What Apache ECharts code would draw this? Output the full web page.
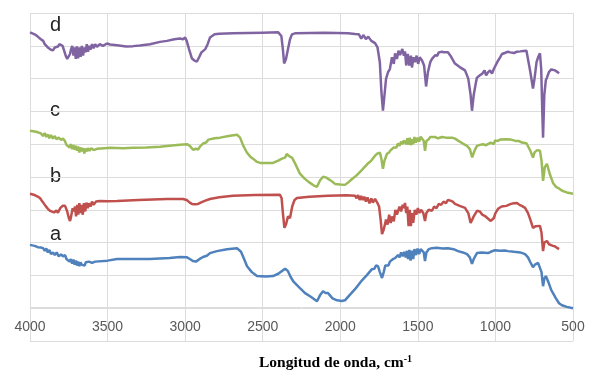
<!DOCTYPE html>
<html>
<head>
<meta charset="utf-8">
<script src="https://cdn.jsdelivr.net/npm/echarts@6/dist/echarts.min.js"></script>
<style>
  html, body { margin: 0; padding: 0; background: #fff; }
  #chart { width: 595px; height: 381px; }
</style>
</head>
<body>
<div id="chart"></div>
<script>
// wavenumber ticks (cm-1), axis runs from 4000 down to 500
const xTicks = [4000, 3500, 3000, 2500, 2000, 1500, 1000, 500];
const seriesNames = ['d', 'c', 'b', 'a'];

// spectra, offset vertically: [wavenumber, signal]
const spectrumD = [
  [4000, 8.41], [3970, 8.35], [3950, 8.28], [3930, 8.2], [3915, 8.15], [3905, 8.05], [3895, 8.1], [3885, 7.95],
  [3875, 8.0], [3865, 7.88], [3852, 7.86], [3840, 7.95], [3830, 7.9], [3820, 7.98], [3810, 8.05], [3800, 8.1],
  [3790, 8.0], [3780, 7.85], [3770, 7.7], [3760, 7.6], [3750, 7.61], [3742, 7.75], [3735, 7.9], [3728, 8.0],
  [3720, 7.7], [3712, 7.95], [3705, 7.6], [3698, 7.98], [3690, 7.62], [3682, 7.95], [3674, 7.66], [3666, 8.0],
  [3658, 7.7], [3650, 7.95], [3642, 7.8], [3634, 8.05], [3626, 7.82], [3618, 8.0], [3610, 7.88], [3600, 8.05],
  [3590, 7.92], [3580, 8.05], [3568, 7.97], [3550, 8.05], [3530, 8.0], [3504, 8.07], [3484, 8.04], [3439, 8.02],
  [3380, 7.98], [3336, 7.99], [3291, 8.01], [3227, 8.05], [3162, 8.12], [3117, 8.15], [3070, 8.2], [3033, 8.22],
  [3014, 8.2], [3000, 8.25], [2990, 8.15], [2975, 7.9], [2956, 7.61], [2940, 7.55], [2924, 7.52], [2910, 7.65],
  [2895, 7.8], [2885, 7.86], [2870, 7.9], [2855, 8.05], [2840, 8.25], [2810, 8.35], [2780, 8.37], [2692, 8.38],
  [2600, 8.39], [2500, 8.4], [2400, 8.41], [2389, 8.41], [2380, 8.3], [2370, 7.9], [2362, 7.46], [2350, 7.6],
  [2337, 7.9], [2324, 8.2], [2311, 8.35], [2292, 8.38], [2100, 8.4], [1950, 8.38], [1905, 8.36], [1895, 8.3],
  [1880, 8.35], [1865, 8.22], [1850, 8.33], [1835, 8.2], [1820, 8.28], [1800, 8.15], [1790, 8.2], [1776, 8.08],
  [1760, 7.95], [1745, 7.5], [1735, 6.6], [1725, 6.02], [1715, 6.5], [1705, 7.0], [1692, 7.2], [1680, 7.3],
  [1667, 7.65], [1655, 7.45], [1647, 7.77], [1635, 7.6], [1625, 7.85], [1615, 7.72], [1600, 7.9], [1590, 7.7],
  [1583, 7.83], [1575, 7.4], [1565, 7.75], [1555, 7.4], [1545, 7.7], [1538, 7.34], [1528, 7.65], [1518, 7.5],
  [1508, 7.7], [1498, 7.45], [1488, 7.65], [1473, 7.55], [1460, 7.4], [1447, 6.76], [1435, 7.2], [1420, 7.5],
  [1409, 7.6], [1400, 7.55], [1389, 7.71], [1375, 7.7], [1365, 7.8], [1355, 7.75], [1344, 7.82], [1330, 7.8],
  [1306, 7.8], [1290, 7.7], [1261, 7.46], [1230, 7.35], [1196, 7.25], [1175, 7.0], [1160, 6.5], [1151, 6.02],
  [1140, 6.5], [1125, 6.9], [1119, 7.03], [1100, 7.1], [1085, 7.15], [1070, 7.25], [1060, 7.1], [1048, 7.19],
  [1035, 7.25], [1022, 7.15], [1010, 7.3], [1003, 7.35], [983, 7.55], [970, 7.65], [958, 7.75], [940, 7.78],
  [930, 7.75], [919, 7.82], [905, 7.8], [893, 7.83], [880, 7.78], [870, 7.84], [861, 7.82], [840, 7.83],
  [820, 7.84], [800, 7.85], [790, 7.8], [775, 7.2], [758, 6.7], [748, 7.0], [735, 7.5], [725, 7.65],
  [713, 7.77], [705, 7.3], [698, 6.0], [693, 5.2], [685, 6.5], [675, 6.95], [668, 7.03], [655, 7.2],
  [640, 7.28], [629, 7.34], [615, 7.25], [597, 7.19], [590, 7.16]
];

const spectrumC = [
  [4000, 5.41], [3960, 5.38], [3930, 5.33], [3916, 5.25], [3905, 5.34], [3895, 5.22], [3885, 5.3], [3875, 5.18],
  [3865, 5.28], [3852, 5.17], [3840, 5.25], [3830, 5.15], [3815, 5.2], [3800, 5.13], [3787, 5.17], [3775, 5.1],
  [3765, 4.98], [3755, 4.98], [3745, 4.9], [3737, 5.0], [3728, 4.85], [3720, 4.97], [3712, 4.83], [3704, 4.95],
  [3697, 4.8], [3690, 4.93], [3682, 4.75], [3674, 4.9], [3666, 4.78], [3658, 4.88], [3650, 4.72], [3642, 4.87],
  [3634, 4.78], [3626, 4.88], [3616, 4.8], [3605, 4.88], [3590, 4.82], [3568, 4.86], [3520, 4.88], [3484, 4.89],
  [3400, 4.88], [3336, 4.89], [3250, 4.9], [3162, 4.92], [3100, 4.95], [3033, 4.98], [2988, 5.0], [2970, 4.95],
  [2949, 4.83], [2930, 4.86], [2917, 4.84], [2900, 4.95], [2885, 5.02], [2865, 5.05], [2850, 5.14], [2840, 5.12],
  [2810, 5.18], [2775, 5.2], [2720, 5.25], [2666, 5.29], [2655, 5.28], [2646, 5.2], [2625, 4.95], [2601, 4.74],
  [2580, 4.62], [2563, 4.56], [2540, 4.47], [2517, 4.43], [2480, 4.43], [2434, 4.43], [2400, 4.5], [2376, 4.56],
  [2356, 4.59], [2345, 4.7], [2337, 4.71], [2325, 4.62], [2311, 4.59], [2290, 4.4], [2260, 4.1], [2230, 3.95],
  [2195, 3.82], [2170, 3.74], [2150, 3.7], [2130, 3.9], [2111, 4.01], [2090, 3.98], [2079, 3.98], [2055, 3.87],
  [2034, 3.79], [2000, 3.77], [1970, 3.76], [1945, 3.85], [1924, 3.94], [1895, 4.05], [1860, 4.22], [1820, 4.42],
  [1800, 4.5], [1776, 4.65], [1760, 4.72], [1750, 4.68], [1744, 4.74], [1735, 4.55], [1725, 4.25], [1715, 4.5],
  [1699, 4.71], [1685, 4.75], [1675, 4.82], [1665, 4.78], [1655, 4.9], [1647, 4.95], [1638, 4.9], [1628, 5.02],
  [1618, 4.95], [1608, 5.08], [1598, 5.0], [1590, 5.12], [1583, 5.14], [1575, 5.0], [1568, 5.18], [1560, 4.98],
  [1552, 5.2], [1545, 4.97], [1538, 5.15], [1530, 5.0], [1522, 5.22], [1512, 5.05], [1502, 5.2], [1492, 5.08],
  [1482, 5.23], [1473, 5.2], [1462, 5.1], [1454, 4.8], [1445, 5.1], [1430, 5.15], [1420, 5.22], [1409, 5.2],
  [1390, 5.22], [1370, 5.18], [1344, 5.22], [1320, 5.2], [1280, 5.2], [1260, 5.17], [1241, 5.11], [1210, 5.02],
  [1183, 4.95], [1165, 4.85], [1150, 4.6], [1145, 4.56], [1135, 4.8], [1119, 4.95], [1100, 4.98], [1080, 5.0],
  [1060, 4.97], [1048, 5.02], [1030, 5.05], [1010, 5.0], [1003, 5.11], [985, 5.1], [970, 5.14], [958, 5.17],
  [930, 5.15], [900, 5.14], [870, 5.1], [850, 5.1], [829, 5.05], [800, 5.03], [790, 5.02], [775, 4.8],
  [758, 4.59], [748, 4.75], [730, 4.82], [713, 4.8], [703, 4.5], [693, 3.88], [682, 4.3], [668, 4.4],
  [650, 4.1], [629, 3.82], [610, 3.7], [597, 3.67], [570, 3.58], [540, 3.53], [500, 3.49]
];

const spectrumB = [
  [4000, 3.49], [3970, 3.45], [3950, 3.4], [3936, 3.36], [3920, 3.25], [3900, 3.12], [3885, 3.03], [3871, 2.97],
  [3860, 3.02], [3845, 2.92], [3830, 2.98], [3820, 2.91], [3805, 3.05], [3790, 3.12], [3774, 3.12], [3760, 2.95],
  [3750, 2.75], [3742, 2.66], [3735, 2.8], [3725, 3.05], [3718, 2.95], [3710, 3.1], [3703, 2.8], [3696, 3.15],
  [3689, 2.85], [3682, 3.2], [3675, 2.9], [3668, 3.15], [3660, 2.85], [3652, 3.2], [3644, 2.95], [3636, 3.22],
  [3628, 3.05], [3620, 3.2], [3610, 3.1], [3600, 3.25], [3590, 3.15], [3575, 3.25], [3549, 3.27], [3500, 3.26],
  [3439, 3.27], [3300, 3.3], [3117, 3.33], [3014, 3.33], [2990, 3.3], [2970, 3.22], [2956, 3.18], [2935, 3.17],
  [2917, 3.18], [2900, 3.22], [2870, 3.28], [2840, 3.33], [2780, 3.38], [2692, 3.43], [2550, 3.45], [2389, 3.46],
  [2378, 3.35], [2370, 2.9], [2360, 2.45], [2350, 2.55], [2337, 2.8], [2324, 2.75], [2310, 3.1], [2295, 3.3],
  [2279, 3.36], [2200, 3.4], [2079, 3.43], [1960, 3.44], [1905, 3.43], [1895, 3.35], [1885, 3.45], [1875, 3.3],
  [1865, 3.42], [1855, 3.3], [1845, 3.4], [1835, 3.25], [1825, 3.38], [1812, 3.2], [1800, 3.35], [1790, 3.22],
  [1776, 3.33], [1760, 3.2], [1750, 3.1], [1740, 2.7], [1731, 2.26], [1720, 2.4], [1705, 2.7], [1695, 2.55],
  [1685, 2.85], [1675, 2.6], [1667, 2.8], [1655, 2.65], [1645, 3.0], [1635, 2.85], [1628, 2.9], [1618, 3.1],
  [1608, 2.95], [1598, 3.15], [1590, 3.05], [1583, 3.21], [1575, 2.9], [1568, 3.1], [1560, 2.5], [1552, 3.0],
  [1545, 2.5], [1538, 2.9], [1530, 2.6], [1520, 3.0], [1510, 2.85], [1500, 3.05], [1490, 2.9], [1480, 3.0],
  [1473, 2.97], [1465, 2.9], [1454, 2.66], [1445, 2.9], [1430, 3.0], [1409, 2.97], [1395, 3.1], [1380, 3.05],
  [1365, 3.18], [1350, 3.15], [1335, 3.25], [1320, 3.2], [1306, 3.3], [1290, 3.28], [1275, 3.25], [1261, 3.18],
  [1230, 3.12], [1196, 3.06], [1175, 2.9], [1160, 2.6], [1151, 2.57], [1140, 2.8], [1119, 2.97], [1100, 2.95],
  [1085, 2.85], [1067, 2.81], [1045, 2.72], [1030, 2.66], [1022, 2.66], [1010, 2.75], [1000, 2.9], [983, 3.03],
  [960, 3.1], [930, 3.12], [900, 3.18], [880, 3.2], [861, 3.21], [845, 3.15], [830, 3.12], [809, 3.06],
  [790, 2.9], [775, 2.7], [758, 2.45], [740, 2.5], [713, 2.51], [703, 2.3], [693, 1.74], [685, 2.0],
  [675, 2.05], [668, 2.05], [655, 1.95], [645, 2.0], [629, 1.9], [615, 1.88], [600, 1.83], [590, 1.8]
];

const spectrumA = [
  [4000, 1.93], [3970, 1.9], [3950, 1.86], [3930, 1.85], [3916, 1.83], [3905, 1.75], [3895, 1.82], [3885, 1.7],
  [3875, 1.78], [3865, 1.65], [3852, 1.7], [3840, 1.62], [3828, 1.7], [3815, 1.58], [3800, 1.64], [3787, 1.58],
  [3774, 1.62], [3765, 1.5], [3755, 1.55], [3745, 1.42], [3737, 1.5], [3728, 1.36], [3720, 1.48], [3712, 1.33],
  [3704, 1.45], [3697, 1.3], [3690, 1.42], [3682, 1.28], [3674, 1.4], [3666, 1.32], [3658, 1.38], [3648, 1.3],
  [3640, 1.4], [3630, 1.35], [3620, 1.42], [3600, 1.38], [3580, 1.42], [3568, 1.41], [3500, 1.45], [3439, 1.5],
  [3300, 1.5], [3227, 1.5], [3100, 1.53], [3033, 1.56], [2988, 1.55], [2970, 1.5], [2950, 1.44], [2930, 1.42],
  [2920, 1.44], [2900, 1.52], [2885, 1.56], [2860, 1.6], [2840, 1.68], [2795, 1.74], [2730, 1.8], [2666, 1.83],
  [2655, 1.82], [2640, 1.72], [2620, 1.5], [2601, 1.28], [2570, 1.1], [2537, 0.98], [2480, 0.97], [2434, 0.98],
  [2400, 1.05], [2369, 1.16], [2355, 1.2], [2345, 1.14], [2337, 1.13], [2320, 0.95], [2300, 0.8], [2260, 0.61],
  [2227, 0.46], [2190, 0.35], [2150, 0.21], [2130, 0.4], [2111, 0.52], [2095, 0.46], [2079, 0.46], [2050, 0.3],
  [2021, 0.24], [1990, 0.22], [1970, 0.24], [1940, 0.4], [1905, 0.58], [1860, 0.85], [1830, 1.0], [1796, 1.19],
  [1780, 1.2], [1770, 1.3], [1757, 1.28], [1745, 1.1], [1731, 0.92], [1720, 1.1], [1710, 1.3], [1699, 1.35],
  [1690, 1.3], [1680, 1.42], [1670, 1.4], [1660, 1.5], [1647, 1.53], [1638, 1.48], [1628, 1.62], [1618, 1.55],
  [1608, 1.7], [1598, 1.58], [1588, 1.72], [1578, 1.55], [1570, 1.75], [1563, 1.5], [1555, 1.78], [1547, 1.45],
  [1538, 1.75], [1530, 1.5], [1522, 1.8], [1512, 1.62], [1502, 1.82], [1492, 1.65], [1482, 1.8], [1473, 1.8],
  [1462, 1.7], [1454, 1.44], [1445, 1.7], [1430, 1.8], [1409, 1.83], [1380, 1.84], [1340, 1.82], [1306, 1.83],
  [1270, 1.8], [1241, 1.74], [1210, 1.7], [1183, 1.65], [1165, 1.55], [1151, 1.35], [1140, 1.5], [1119, 1.68],
  [1090, 1.7], [1048, 1.68], [1030, 1.72], [1003, 1.77], [970, 1.75], [940, 1.76], [919, 1.74], [880, 1.72],
  [840, 1.7], [809, 1.65], [790, 1.55], [775, 1.4], [758, 1.25], [745, 1.33], [725, 1.38], [713, 1.38],
  [703, 1.1], [693, 0.67], [685, 0.9], [675, 0.98], [668, 0.98], [655, 0.75], [640, 0.55], [629, 0.46],
  [610, 0.3], [590, 0.15], [571, 0.09], [540, 0.04], [500, 0.0]
];

const spectra = [spectrumD, spectrumC, spectrumB, spectrumA];
const colors = ['#8064a2', '#9bbb59', '#c0504d', '#4f81bd'];

const chartDom = document.getElementById('chart');
const chart = echarts.init(chartDom, null, { renderer: 'canvas' });

const gridColor = '#dcdcdc';
const labelStyle = { font: '20px "Liberation Sans"', fill: '#262626' };

const option = {
  animation: false,
  backgroundColor: '#ffffff',
  grid: { left: 30, right: 22, top: 13, bottom: 40 },
  xAxis: {
    type: 'value',
    inverse: true,
    min: xTicks[xTicks.length - 1],
    max: xTicks[0],
    interval: 500,
    // axis sits on the second-lowest gridline, as in the original
    offset: -34,
    axisLine: { onZero: false, lineStyle: { color: gridColor, width: 1 } },
    axisTick: { show: false },
    axisLabel: {
      color: '#595959',
      fontSize: 14,
      fontFamily: 'Liberation Sans',
      margin: 13,
      showMinLabel: true,
      showMaxLabel: true,
      formatter: (v) => String(v)
    },
    splitLine: { show: true, lineStyle: { color: gridColor, width: 1 } }
  },
  yAxis: {
    type: 'value',
    min: -1,
    max: 9,
    interval: 1,
    axisLine: { show: false },
    axisTick: { show: false },
    axisLabel: { show: false },
    splitLine: { show: true, lineStyle: { color: gridColor, width: 1 } }
  },
  series: spectra.map((data, i) => ({
    name: seriesNames[i],
    type: 'line',
    data: data,
    showSymbol: false,
    symbol: 'none',
    smooth: false,
    lineStyle: { color: colors[i], width: 2.5 },
    z: 10 - i
  })),
  graphic: [
    { type: 'text', left: 50, top: 15, style: Object.assign({ text: 'd' }, labelStyle) },
    { type: 'text', left: 50, top: 100, style: Object.assign({ text: 'c' }, labelStyle) },
    { type: 'text', left: 50, top: 166, style: Object.assign({ text: 'b' }, labelStyle) },
    { type: 'text', left: 50, top: 224, style: Object.assign({ text: 'a' }, labelStyle) },
    {
      type: 'text',
      left: 259,
      top: 354,
      style: {
        text: '{t|Longitud de onda, cm}{s|-1}',
        rich: {
          t: { fontFamily: 'Liberation Serif', fontWeight: 'bold', fontSize: 15.5, fill: '#000', lineHeight: 18 },
          s: { fontFamily: 'Liberation Serif', fontWeight: 'bold', fontSize: 10, fill: '#000', verticalAlign: 'top', lineHeight: 18 }
        }
      }
    }
  ]
};

chart.setOption(option);
</script>
</body>
</html>
